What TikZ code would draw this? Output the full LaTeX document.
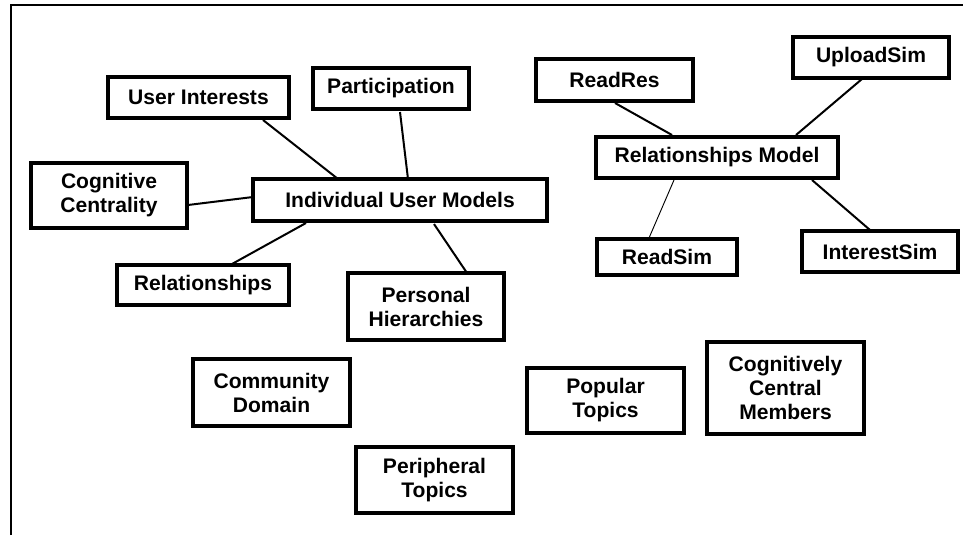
\documentclass[tikz,border=0pt]{standalone}
\usepackage{fontspec}
\setmainfont{Liberation Sans}
\begin{document}
\begin{tikzpicture}[x=0.75pt,y=-0.75pt,
  box/.style={draw,line width=2.3pt,inner sep=0pt,align=center,
    font=\fontsize{15.8pt}{18pt}\selectfont\bfseries},
  link/.style={line width=1.5pt},
  thinlink/.style={line width=0.7pt},
  frameline/.style={line width=1.6pt}]
\useasboundingbox (0,0) rectangle (973,535);
\coordinate (fa) at (11,535);
\coordinate (fb) at (11,5);
\coordinate (fc) at (963,5);
\draw[frameline] (fa) -- (fb) -- (fc);

\node[box,minimum width=135.75pt,minimum height=30.75pt] (ui) at (198.5,97.5) {User Interests};
\node[box,minimum width=117pt,minimum height=30.75pt] (part) at (391,88.5) {Participation};
\node[box,minimum width=117pt,minimum height=48.75pt] (cc) at (109,195.5) {Cognitive\\Centrality};
\node[box,minimum width=220.5pt,minimum height=31.5pt] (ium) at (400,200) {Individual User Models};
\node[box,minimum width=129pt,minimum height=30pt] (rel) at (203,285) {Relationships};
\node[box,minimum width=117pt,minimum height=50.25pt] (ph) at (426,306.5) {Personal\\Hierarchies};
\node[box,minimum width=117.75pt,minimum height=31.5pt] (rr) at (614.5,80) {ReadRes};
\node[box,minimum width=117pt,minimum height=30.75pt] (us) at (871,57.5) {UploadSim};
\node[box,minimum width=181.5pt,minimum height=30.75pt] (rm) at (717,157.5) {Relationships Model};
\node[box,minimum width=105pt,minimum height=27pt] (rs) at (667,257) {ReadSim};
\node[box,minimum width=117pt,minimum height=30.75pt] (is) at (880,251.5) {InterestSim};
\node[box,minimum width=117.75pt,minimum height=50.25pt] (cd) at (271.5,392.5) {Community\\Domain};
\node[box,minimum width=117.75pt,minimum height=49.5pt] (pt) at (434.5,480) {Peripheral\\Topics};
\node[box,minimum width=117.75pt,minimum height=48.75pt] (pop) at (605.5,400.5) {Popular\\Topics};
\node[box,minimum width=117.75pt,minimum height=69pt] (ccm) at (785.5,388) {Cognitively\\Central\\Members};

\draw[link] ([shift={(64.5,22.5)}]ui.center) -- ([shift={(-62,-21)}]ium.center);
\draw[link] ([shift={(9,23.5)}]part.center) -- ([shift={(8,-21)}]ium.center);
\draw[link] ([shift={(79,9.5)}]cc.center) -- ([shift={(-147,-3)}]ium.center);
\draw[link] ([shift={(29,-21)}]rel.center) -- ([shift={(-94,23)}]ium.center);
\draw[link] ([shift={(41,-33.5)}]ph.center) -- ([shift={(34,24)}]ium.center);
\draw[link] ([shift={(0.5,23)}]rr.center) -- ([shift={(-45,-22.5)}]rm.center);
\draw[link] ([shift={(-9,21.5)}]us.center) -- ([shift={(79,-22.5)}]rm.center);
\draw[thinlink] ([shift={(-18,-19)}]rs.center) -- ([shift={(-43,22.5)}]rm.center);
\draw[link] ([shift={(-10,-21.5)}]is.center) -- ([shift={(95,22.5)}]rm.center);
\end{tikzpicture}
\end{document}
